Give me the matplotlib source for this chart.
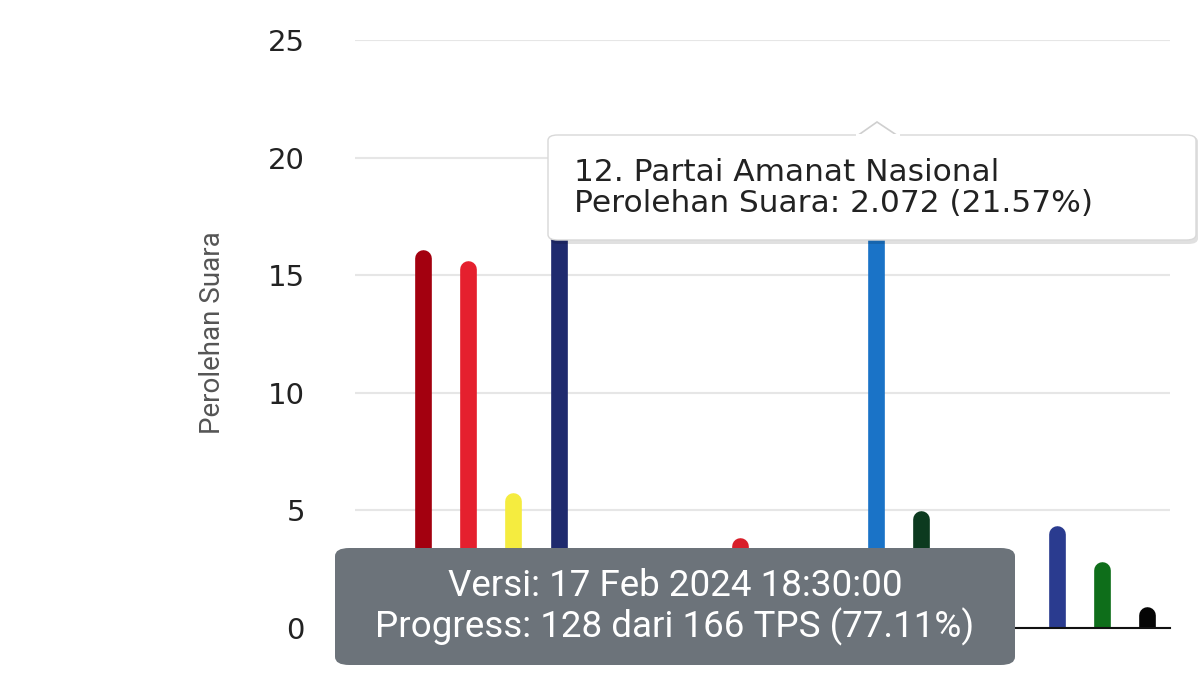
import matplotlib
matplotlib.use("Agg")
import matplotlib.pyplot as plt
from matplotlib.patches import FancyBboxPatch, Polygon, Rectangle
import numpy as np

# party numbers on the ballot (18 slots, the last one is party 24)
partai = ["1", "2", "3", "4", "5", "6", "7", "8", "9", "10",
          "11", "12", "13", "14", "15", "16", "17", "24"]
# vote share in percent (hidden ones guessed small)
suara = [1.2, 16.0, 15.5, 5.65, 17.8, 0.4, 0.5, 1.6, 3.75, 0.3,
         0.2, 21.57, 4.9, 1.8, 0.0, 4.25, 2.7, 0.8]
warna = ["#0a7a3a", "#a3000f", "#e5202e", "#f5ec3f", "#1f2a6e", "#e8701a",
         "#3a7bbd", "#f07a1a", "#d81f2a", "#f0a000", "#c81e24", "#1a73c7",
         "#0c3a1f", "#2a4a9c", "#e83a3a", "#2a3b8f", "#0e6e1a", "#050505"]

yticks = [0, 5, 10, 15, 20, 25]
tooltip_atas = "12. Partai Amanat Nasional\nPerolehan Suara: 2.072 (21.57%)"
tooltip_bawah = "Versi: 17 Feb 2024 18:30:00\nProgress: 128 dari 166 TPS (77.11%)"

W, H = 1200, 675
fig = plt.figure(figsize=(12, 6.75), dpi=100)
ax = fig.add_axes([355 / W, 47 / H, 815 / W, 588 / H])

x = np.arange(len(partai))
v = np.array(suara)
ada = v > 0
bar_lw = 12  # points
px_per_unit = 588 / 25
cap = 0.7 * (bar_lw / 72 * 100 / 2) / px_per_unit
ax.vlines(x[ada], 0, v[ada] - cap, colors=np.array(warna)[ada],
          linewidth=bar_lw, capstyle="round", zorder=3)

ax.set_xlim(-0.5, len(partai) - 0.5)
ax.set_ylim(0, 25)
ax.set_yticks(yticks)
ax.set_yticklabels([str(t) for t in yticks], fontsize=21, color="#222222",
                   family="DejaVu Sans")
ax.tick_params(axis="y", length=0, pad=36)
ax.tick_params(axis="x", length=0, labelbottom=False)
ax.grid(axis="y", color="#e6e6e6", linewidth=1.5, zorder=0)
for s in ["top", "right", "left"]:
    ax.spines[s].set_visible(False)
ax.spines["bottom"].set_color("#111111")
ax.spines["bottom"].set_linewidth(1.5)
ax.spines["bottom"].set_zorder(4)

fig.text(213 / W, 1 - 333 / H, "Perolehan Suara", rotation=90, fontsize=20,
         color="#555555", ha="center", va="center",
         family=["Liberation Sans Narrow", "Roboto"])

# tooltip atas (putih dengan bayangan)
fig.patches.append(Rectangle((860 / W, 1 - 137 / H), 32 / W, 25 / H,
                             transform=fig.transFigure, facecolor="white",
                             edgecolor="none", zorder=9))
shadow = FancyBboxPatch((550 / W, 1 - 244 / H), 648 / W, 108 / H,
                        boxstyle="round,pad=0,rounding_size=0.008",
                        transform=fig.transFigure, facecolor="#000000",
                        alpha=0.12, edgecolor="none", zorder=10)
fig.patches.append(shadow)
box = FancyBboxPatch((548 / W, 1 - 240 / H), 648 / W, 105 / H,
                     boxstyle="round,pad=0,rounding_size=0.008",
                     transform=fig.transFigure, facecolor="white",
                     edgecolor="#d8d8d8", linewidth=1, zorder=11)
fig.patches.append(box)
tri = Polygon([(857 / W, 1 - 136 / H), (877 / W, 1 - 122 / H), (898 / W, 1 - 136 / H)],
              closed=False, transform=fig.transFigure, facecolor="white",
              edgecolor="#cfcfcf", linewidth=1.2, zorder=12)
fig.patches.append(tri)
fig.patches.append(Rectangle((856 / W, 1 - 138 / H), 44 / W, 4 / H,
                             transform=fig.transFigure, facecolor="white",
                             edgecolor="none", zorder=12))
fig.text(574 / W, 1 - 188 / H, tooltip_atas, fontsize=22.5, color="#222222",
         ha="left", va="center", linespacing=1.12, family="DejaVu Sans",
         zorder=13)

# kotak abu-abu bawah
box2 = FancyBboxPatch((335 / W, 1 - 665 / H), 680 / W, 117 / H,
                      boxstyle="round,pad=0,rounding_size=0.012",
                      transform=fig.transFigure, facecolor="#6c737a",
                      edgecolor="none", zorder=10)
fig.patches.append(box2)
fig.text(675 / W, 1 - 607 / H, tooltip_bawah, fontsize=26.5, color="white",
         ha="center", va="center", linespacing=1.12, family="Roboto", zorder=13)

fig.savefig("out.png", dpi=100)
